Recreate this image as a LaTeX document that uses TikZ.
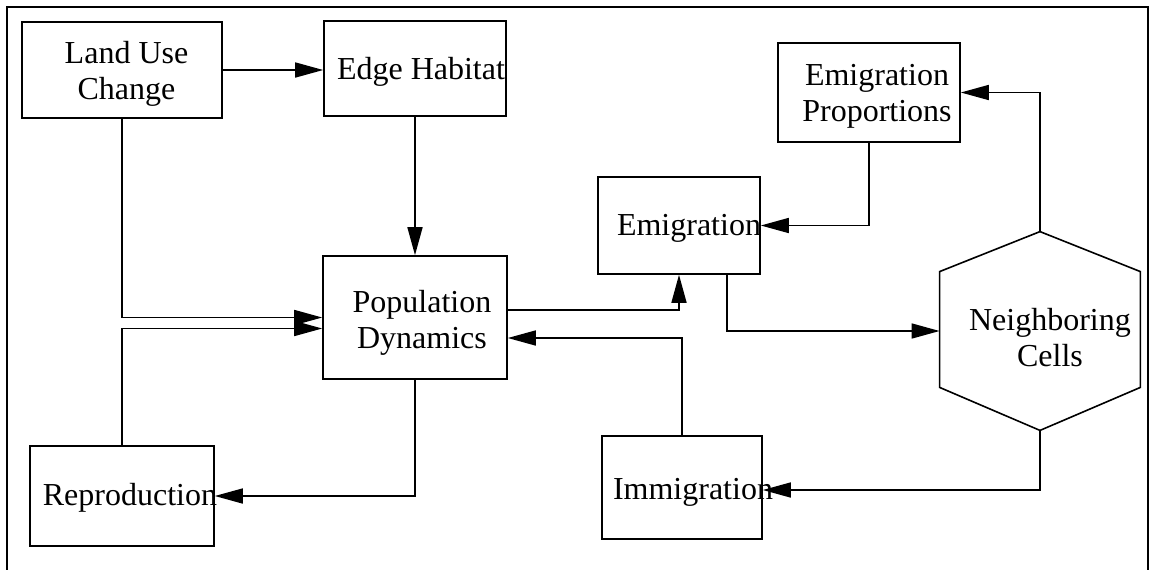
\documentclass[tikz,border=0pt]{standalone}
\usepackage{fontspec}
\setmainfont{Liberation Serif}
\usetikzlibrary{arrows.meta,calc}
\begin{document}
\begin{tikzpicture}[x=0.5pt,y=-0.5pt,
  box/.style={draw,line width=0.8pt,rectangle,inner sep=0pt},
  ghost/.style={rectangle,inner sep=0pt},
  txt/.style={font=\fontsize{16pt}{18pt}\selectfont,align=center,inner sep=0pt},
  arr/.style={line width=0.8pt,-{Triangle[length=14pt,width=7.5pt]}},
  conn/.style={line width=0.8pt}]
\useasboundingbox (0,0) rectangle (1153,569);
% frame
\draw[line width=1.15pt] (7,575) -- (7,7) -- (1148,7) -- (1148,575);
% boxes
\node[box,minimum width=100pt,minimum height=48pt] (land) at (122,70) {};
\node[box,minimum width=91pt,minimum height=47.5pt] (edge) at (415,68.5) {};
\node[box,minimum width=92pt,minimum height=61.5pt] (pop) at (415,317.5) {};
\node[box,minimum width=92pt,minimum height=50pt] (repro) at (122,496) {};
\node[box,minimum width=81pt,minimum height=48.5pt] (emig) at (679,225.5) {};
\node[box,minimum width=91pt,minimum height=49.5pt] (eprop) at (869,92.5) {};
\node[box,minimum width=80pt,minimum height=51.5pt] (immig) at (682,487.5) {};
\node[ghost,minimum width=100pt,minimum height=99pt] (nb) at (1040,331) {};
\draw[conn] (nb.north) -- ($(nb.north east)+(0,40)$) -- ($(nb.south east)+(0,-43)$)
  -- (nb.south) -- ($(nb.south west)+(0,-43)$) -- ($(nb.north west)+(0,40)$) -- cycle;
% texts
\node[txt] (land-t) at (126.5,73.4) {Land Use\\Change};
\node[txt,anchor=base] (edge-t) at (421,79.3) {Edge Habitat};
\node[txt] (pop-t) at (422,322.5) {Population\\Dynamics};
\node[txt,anchor=base] (repro-t) at (130,505) {Reproduction};
\node[txt,anchor=base] (emig-t) at (689,235) {Emigration};
\node[txt] (eprop-t) at (877,96.7) {Emigration\\Proportions};
\node[txt,anchor=base] (immig-t) at (693,499) {Immigration};
\node[txt] (nb-t) at (1050,338) {Neighboring\\Cells};
% connectors
\draw[arr] (land.east) -- (land.east -| edge.west);
\draw[arr] (edge.south) -- (edge.south |- pop.north);
\draw[arr] (land.south) |- (pop.west);
\draw[arr] (repro.north) |- ($(pop.west)+(0,11)$);
\draw[arr] (pop.south) |- (repro.east);
\draw[arr] ($(pop.east)+(0,-7.5)$) -| (emig.south);
\draw[arr] (immig.north) |- ($(pop.east)+(0,20.5)$);
\draw[arr] ($(emig.south)+(48,0)$) |- (nb.west);
\draw[arr] (nb.north) |- (eprop.east);
\draw[arr] (eprop.south) |- (emig.east);
\draw[arr] (nb.south) |- ($(immig.east)+(0,2.5)$);
\end{tikzpicture}
\end{document}
